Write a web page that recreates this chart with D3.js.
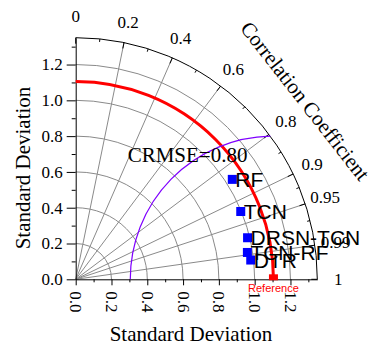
<!DOCTYPE html>
<html>
<head>
<meta charset="utf-8">
<script src="https://cdn.jsdelivr.net/npm/d3@7"></script>
<style>
  html, body { margin: 0; padding: 0; background: #fff; }
  svg { display: block; }
  .serif { font-family: "Liberation Serif", "Times New Roman", serif; }
  .sans { font-family: "Liberation Sans", Arial, sans-serif; }
</style>
</head>
<body>
<svg id="chart" width="377" height="346"></svg>
<script>
// Taylor diagram: model standard deviation vs. correlation against the reference
const models = ["RF", "TCN", "DRSN-TCN", "TCN-RF", "DTR"];
const stdDevs = [1.038, 0.997, 0.988, 0.971, 0.984];
const correlations = [0.843, 0.925, 0.972, 0.988, 0.994];
const refStd = 1.105;
const crmseLevel = 0.80;
const stdMax = 1.35;
const stdTicks = [0, 0.2, 0.4, 0.6, 0.8, 1.0, 1.2];
const stdMinorTicks = [0.1, 0.3, 0.5, 0.7, 0.9, 1.1, 1.3];
const gridRadii = [0.2, 0.4, 0.6, 0.8, 1.0, 1.2];
const corrTicks = [0, 0.2, 0.4, 0.6, 0.8, 0.9, 0.95, 0.99, 1];
const corrTickLabels = ["0", "0.2", "0.4", "0.6", "0.8", "0.9", "0.95", "0.99", "1"];
const corrMinorTicks = [0.1, 0.3, 0.5, 0.7, 0.85, 0.925, 0.97];
const corrGrid = [0.2, 0.4, 0.6, 0.8, 0.9, 0.95, 0.99];

const svg = d3.select("#chart");
const ox = 75.7, oy = 279.3, R = 241.6;

const x = d3.scaleLinear().domain([0, stdMax]).range([ox, ox + R]);
const y = d3.scaleLinear().domain([0, stdMax]).range([oy, oy - R]);
const r = d3.scaleLinear().domain([0, stdMax]).range([0, R]);

// polar helper: std dev + correlation -> screen point
const polar = (s, c) => {
  const a = Math.acos(c);
  return [ox + r(s) * Math.cos(a), oy - r(s) * Math.sin(a)];
};

const quarterArc = (rad) => {
  const p = d3.path();
  p.arc(ox, oy, rad, -Math.PI / 2, 0);
  return p.toString();
};

const grid = svg.append("g").attr("fill", "none").attr("stroke", "#8a8a8a").attr("stroke-width", 1);
// std dev circles
grid.selectAll("path.ring").data(gridRadii).join("path")
  .attr("class", "ring")
  .attr("d", d => quarterArc(r(d)));
// correlation rays
grid.selectAll("line.ray").data(corrGrid).join("line")
  .attr("class", "ray")
  .attr("x1", ox).attr("y1", oy)
  .attr("x2", d => polar(stdMax, d)[0])
  .attr("y2", d => polar(stdMax, d)[1]);

// outer boundary arc
svg.append("path").attr("d", quarterArc(R))
  .attr("fill", "none").attr("stroke", "#000").attr("stroke-width", 1);

// correlation ticks (inward)
const tickSeg = (c, len) => {
  const a = Math.acos(c);
  return { x1: ox + R * Math.cos(a), y1: oy - R * Math.sin(a),
           x2: ox + (R - len) * Math.cos(a), y2: oy - (R - len) * Math.sin(a) };
};
svg.append("g").selectAll("line").data(corrTicks.map(c => tickSeg(c, 6)).concat(corrMinorTicks.map(c => tickSeg(c, 3))))
  .join("line")
  .attr("x1", d => d.x1).attr("y1", d => d.y1).attr("x2", d => d.x2).attr("y2", d => d.y2)
  .attr("stroke", "#000").attr("stroke-width", 1);

// correlation labels
svg.append("g").selectAll("text").data(corrTicks).join("text")
  .attr("class", "serif")
  .attr("x", (d) => { const a = Math.acos(d); return ox + (R + 21) * Math.cos(a); })
  .attr("y", (d) => { const a = Math.acos(d); return oy - (R + 21) * Math.sin(a); })
  .attr("text-anchor", "middle").attr("dominant-baseline", "central")
  .style("font-size", "17px")
  .text((d, i) => corrTickLabels[i]);

// correlation title
svg.append("text")
  .attr("class", "serif")
  .attr("transform", "translate(305,101) rotate(52)")
  .attr("text-anchor", "middle").attr("dominant-baseline", "central")
  .style("font-size", "21px")
  .text("Correlation Coefficient");

// x axis
const fmt = d3.format(".1f");
const xAxis = svg.append("g").attr("transform", `translate(0,${oy})`)
  .call(d3.axisBottom(x).tickValues(stdTicks).tickFormat(fmt).tickSize(6).tickSizeOuter(0));
svg.append("g").attr("transform", `translate(0,${oy})`)
  .call(d3.axisBottom(x).tickValues(stdMinorTicks).tickFormat("").tickSize(3).tickSizeOuter(0))
  .select(".domain").remove();
xAxis.selectAll(".tick text")
  .attr("class", "serif")
  .style("font-size", "17px")
  .attr("transform", "rotate(90)")
  .attr("x", 12).attr("y", 0).attr("dy", "0.35em")
  .attr("text-anchor", "start");

// y axis
const yAxis = svg.append("g").attr("transform", `translate(${ox},0)`)
  .call(d3.axisLeft(y).tickValues(stdTicks).tickFormat(fmt).tickSize(9).tickSizeOuter(0));
svg.append("g").attr("transform", `translate(${ox},0)`)
  .call(d3.axisLeft(y).tickValues(stdMinorTicks).tickFormat("").tickSize(4).tickSizeOuter(0))
  .select(".domain").remove();
yAxis.selectAll(".tick text").attr("class", "serif").style("font-size", "17px").attr("x", -13);
svg.selectAll(".domain").attr("stroke", "#000");

// axis titles
svg.append("text")
  .attr("class", "serif")
  .attr("x", 191).attr("y", 341)
  .attr("text-anchor", "middle")
  .style("font-size", "21px")
  .text("Standard Deviation");
svg.append("text")
  .attr("class", "serif")
  .attr("transform", "translate(30,168) rotate(-90)")
  .attr("text-anchor", "middle")
  .style("font-size", "21px")
  .text("Standard Deviation");

// reference std dev arc
svg.append("path").attr("d", quarterArc(r(refStd)))
  .attr("fill", "none").attr("stroke", "#ff0000").attr("stroke-width", 3);

// centred RMSE contour around the reference point
const refX = x(refStd);
const cosPhi = (stdMax * stdMax - refStd * refStd - crmseLevel * crmseLevel) / (2 * refStd * crmseLevel);
const phi = Math.acos(cosPhi);
const crmsePath = d3.path();
crmsePath.arc(refX, oy, r(crmseLevel), Math.PI, 2 * Math.PI - phi);
svg.append("path").attr("d", crmsePath.toString())
  .attr("fill", "none").attr("stroke", "#7f00ff").attr("stroke-width", 1.2);

svg.append("text")
  .attr("class", "serif")
  .attr("x", x(0.625)).attr("y", y(0.655))
  .attr("text-anchor", "middle")
  .style("font-size", "21px")
  .text("CRMSE=" + crmseLevel.toFixed(2));

// model points
const pts = models.map((m, i) => {
  const [px, py] = polar(stdDevs[i], correlations[i]);
  return { name: m, px, py };
});
svg.append("g").selectAll("rect").data(pts).join("rect")
  .attr("x", d => d.px - 4.5).attr("y", d => d.py - 4.5)
  .attr("width", 9).attr("height", 9)
  .attr("fill", "#0000ff");
svg.append("g").selectAll("text").data(pts).join("text")
  .attr("class", "sans")
  .attr("x", d => d.px + 3).attr("y", d => d.py + 7.5)
  .style("font-size", "21px")
  .attr("fill", "#000")
  .text(d => d.name);

// reference marker
svg.append("rect")
  .attr("x", refX - 4.5).attr("y", oy - 5)
  .attr("width", 9).attr("height", 6)
  .attr("fill", "#ff0000");
svg.append("text")
  .attr("class", "sans")
  .attr("x", refX).attr("y", 292)
  .attr("text-anchor", "middle")
  .style("font-size", "11px")
  .attr("fill", "#ff0000")
  .text("Reference");
</script>
</body>
</html>
